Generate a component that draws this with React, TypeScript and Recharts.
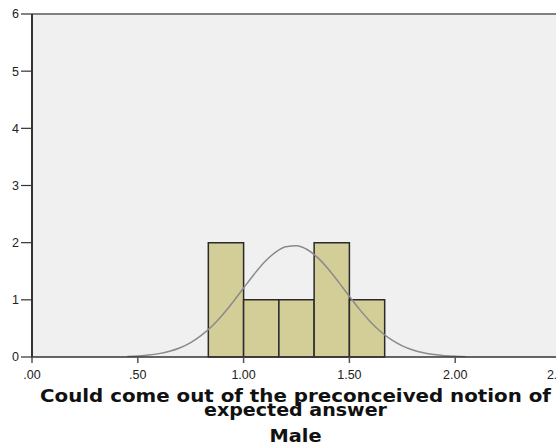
import React from 'react';
import { ComposedChart, Line, XAxis, YAxis, CartesianGrid, ReferenceArea, ReferenceLine } from 'recharts';

const binStarts = [0.8333, 1.0, 1.1667, 1.3333, 1.5];
const binEnds = [1.0, 1.1667, 1.3333, 1.5, 1.6667];
const binCounts = [2, 1, 1, 2, 1];

const curveX = [0.45, 0.5, 0.55, 0.6, 0.65, 0.7, 0.75, 0.8, 0.85, 0.9, 0.95, 1.0, 1.05, 1.1, 1.15, 1.2, 1.25, 1.3, 1.35, 1.4, 1.45, 1.5, 1.55, 1.6, 1.65, 1.7, 1.75, 1.8, 1.85, 1.9, 1.95, 2.0, 2.05];
const curveY = [0.008, 0.018, 0.033, 0.059, 0.1, 0.163, 0.253, 0.378, 0.538, 0.736, 0.963, 1.208, 1.449, 1.665, 1.831, 1.929, 1.946, 1.88, 1.738, 1.54, 1.306, 1.061, 0.824, 0.614, 0.438, 0.298, 0.195, 0.122, 0.073, 0.042, 0.023, 0.012, 0.006];

const xTicks = [0, 0.5, 1, 1.5, 2, 2.5];
const yTicks = [0, 1, 2, 3, 4, 5, 6];

const titleLine1 = 'Could come out of the preconceived notion of';
const titleLine2 = 'expected answer';
const panelLabel = 'Male';

const data = curveX.map((x, i) => ({ x, y: curveY[i] }));

const fmt = (v: number) => v.toFixed(2).replace(/^0/, '');

const TitleLabel = (props: any) => {
  const vb = props.viewBox || { x: 32, y: 357, width: 529, height: 91 };
  const cx = vb.x + vb.width / 2 - 1;
  const top = vb.y;
  return (
    <g>
      <text x={cx} y={top + 44.5} textAnchor="middle" fontFamily="'DejaVu Sans', sans-serif" fontWeight="bold" fontSize={17} fill="#111" textLength={511} lengthAdjust="spacingAndGlyphs">
        {titleLine1}
      </text>
      <text x={cx} y={top + 58.5} textAnchor="middle" fontFamily="'DejaVu Sans', sans-serif" fontWeight="bold" fontSize={17} fill="#111" textLength={183} lengthAdjust="spacingAndGlyphs">
        {titleLine2}
      </text>
      <text x={cx} y={top + 84.5} textAnchor="middle" fontFamily="'DejaVu Sans', sans-serif" fontWeight="bold" fontSize={17} fill="#111" textLength={52} lengthAdjust="spacingAndGlyphs">
        {panelLabel}
      </text>
    </g>
  );
};

export default function App() {
  return (
    <div style={{ position: 'absolute', left: 0, top: 0, width: 556, height: 448, overflow: 'hidden', background: '#fff' }}>
      <ComposedChart width={570} height={448} data={data} margin={{ top: 14, right: 9, left: 0, bottom: 0 }}>
        <CartesianGrid horizontal={false} vertical={false} fill="#f0f0f0" />
        <XAxis
          dataKey="x"
          type="number"
          domain={[0, 2.5]}
          ticks={xTicks}
          tickFormatter={fmt}
          height={91}
          tickSize={6}
          tickMargin={7}
          axisLine={{ stroke: '#333', strokeWidth: 1.5 }}
          tickLine={{ stroke: '#555', strokeWidth: 1.5 }}
          tick={{ fill: '#222', fontSize: 12.5, fontFamily: "'Liberation Sans', Arial, sans-serif" }}
          label={<TitleLabel />}
          allowDataOverflow
        />
        <YAxis
          type="number"
          domain={[0, 6]}
          ticks={yTicks}
          width={32}
          tickSize={11}
          tickMargin={2}
          axisLine={{ stroke: '#333', strokeWidth: 2 }}
          tickLine={{ stroke: '#333', strokeWidth: 1.2 }}
          tick={{ fill: '#222', fontSize: 12.5, fontFamily: "'Liberation Sans', Arial, sans-serif" }}
          allowDataOverflow
        />
        <ReferenceLine y={6} stroke="#808080" strokeWidth={2} />
        {binCounts.map((c, i) => (
          <ReferenceArea key={i} x1={binStarts[i]} x2={binEnds[i]} y1={0} y2={c} fill="#d3ce98" fillOpacity={1} stroke="#2a2a2a" strokeWidth={1.5} strokeOpacity={1} />
        ))}
        <Line dataKey="y" type="monotone" stroke="#8a8a8a" strokeWidth={1.5} dot={false} isAnimationActive={false} />
      </ComposedChart>
    </div>
  );
}
